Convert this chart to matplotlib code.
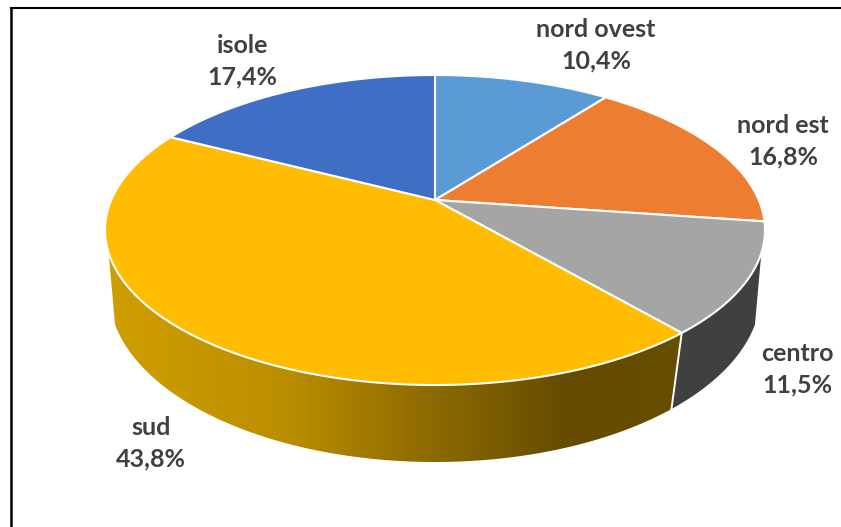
import numpy as np
import matplotlib
matplotlib.use("Agg")
import matplotlib.pyplot as plt
from matplotlib.patches import Polygon

categories = ["nord ovest", "nord est", "centro", "sud", "isole"]
shares = [10.4, 16.8, 11.5, 43.8, 17.4]
value_labels = ["10,4%", "16,8%", "11,5%", "43,8%", "17,4%"]
colors = ["#5B9BD5", "#ED7D31", "#A5A5A5", "#FFBC00", "#3F6FC4"]
label_xy = [(596, 45), (783, 141), (797, 369), (151, 443), (242, 61)]

W, H = 841, 527
fig = plt.figure(figsize=(W / 100, H / 100), dpi=100)
ax = fig.add_axes([0, 0, 1, 1])
ax.set_xlim(0, W)
ax.set_ylim(H, 0)
ax.axis("off")

CX, CY, RX, RY, TILT = 435, 230, 330, 155, 30 / 155
BY, BRX, BRY, BTILT = 292, 326, 170, 0.15


def rim(theta, cy=CY, rx=RX, ry=RY, a=TILT):
    """Perspective projection of a circle point; theta is clockwise from 12 o'clock."""
    u, v = np.sin(theta), np.cos(theta)
    d = 1 + a * v
    return CX + rx * u * np.sqrt(1 - a * a) / d, cy - ry * (v + a) / d


total = sum(shares)
edges = 2 * np.pi * np.cumsum([0] + shares) / total
edges[-1] = 2 * np.pi
apex = (CX, CY - RY * TILT)

# side wall: visible from the right silhouette round to the left silhouette
theta_r, theta_l = np.radians(109.4), np.radians(250.6)
corner = edges[3]


def wall_poly(t0, t1):
    ts = np.linspace(t0, t1, 200)
    tx, ty = rim(ts)
    bx, by = rim(ts[::-1], BY, BRX, BRY, BTILT)
    return np.column_stack([np.r_[tx, bx], np.r_[ty, by]])


# sud wall with its horizontal gradient
stops_x = [105, 280, 435, 570, 680]
stops_r = [208, 188, 140, 100, 104]
stops_g = [158, 143, 105, 75, 78]
xs = np.linspace(100, 690, 300)
grad = np.zeros((1, xs.size, 3))
grad[0, :, 0] = np.interp(xs, stops_x, stops_r) / 255
grad[0, :, 1] = np.interp(xs, stops_x, stops_g) / 255
sud_wall = Polygon(wall_poly(corner, theta_l), closed=True, fc="none", ec="none",
                   transform=ax.transData)
ax.add_patch(sud_wall)
im = ax.imshow(grad, extent=(100, 690, 480, 230), aspect="auto", zorder=1,
               interpolation="bilinear")
im.set_clip_path(sud_wall)
ax.set_xlim(0, W)
ax.set_ylim(H, 0)

# centro wall
ax.add_patch(Polygon(wall_poly(theta_r, corner), closed=True, fc="#404040", ec="none", zorder=1))
# white seam between the walls
sx0, sy0 = rim(corner)
sx1, sy1 = rim(corner, BY, BRX, BRY, BTILT)
ax.plot([sx0, sx1], [sy0, sy1], color="white", lw=1.4, zorder=2)

# top face
for i, c in enumerate(colors):
    ts = np.linspace(edges[i], edges[i + 1], 200)
    x, y = rim(ts)
    pts = np.column_stack([np.r_[apex[0], x], np.r_[apex[1], y]])
    ax.add_patch(Polygon(pts, closed=True, fc=c, ec="white", lw=1.5, joinstyle="round", zorder=3))

# partial frame: only the top and left rules are in the picture
ax.plot([11.5, W], [8, 8], color="black", lw=1.5, solid_capstyle="projecting", zorder=5)
ax.plot([11.5, 11.5], [8, H], color="black", lw=1.8, solid_capstyle="projecting", zorder=5)

for name, val, (x, y) in zip(categories, value_labels, label_xy):
    ax.text(x, y, f"{name}\n{val}", ha="center", va="center", ma="center",
            family=["Lato", "DejaVu Sans"], fontweight="bold", fontsize=18,
            color="#404040", linespacing=1.42, zorder=6)

fig.savefig("out.png", dpi=100)
